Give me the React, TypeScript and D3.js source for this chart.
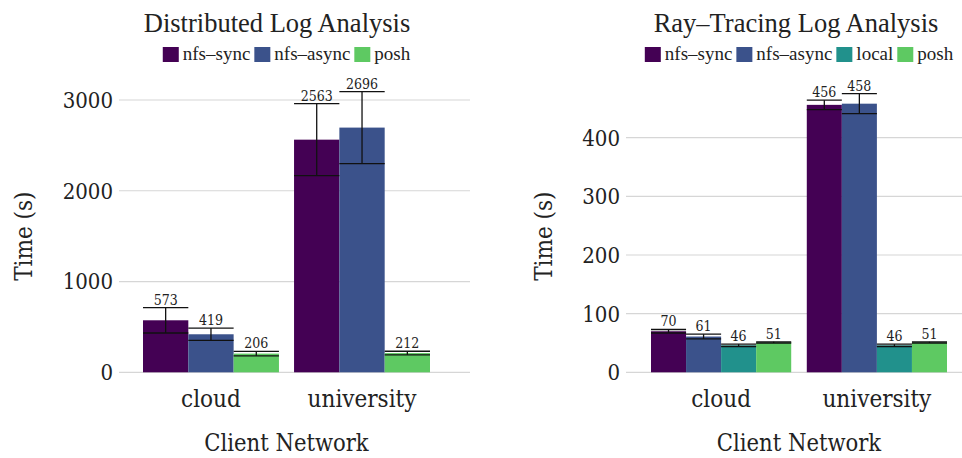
import * as d3 from "d3";
import { useEffect, useRef } from "react";

const networks = ["cloud", "university"];

// Distributed Log Analysis
const distSeries = ["nfs–sync", "nfs–async", "posh"];
const distColors = ["#440154", "#3b528b", "#5ec962"];
const distMeans = [
  [573, 2563],
  [419, 2696],
  [206, 212],
];
const distErrors = [
  [140, 397],
  [68, 396],
  [24, 20],
];
const distTicks = [0, 1000, 2000, 3000];

// Ray-Tracing Log Analysis
const raySeries = ["nfs–sync", "nfs–async", "local", "posh"];
const rayColors = ["#440154", "#3b528b", "#21918c", "#5ec962"];
const rayMeans = [
  [70, 456],
  [61, 458],
  [46, 46],
  [51, 51],
];
const rayErrors = [
  [3, 8],
  [4, 17],
  [2, 2],
  [1, 1],
];
const rayTicks = [0, 100, 200, 300, 400];

const SERIF = "'Liberation Serif', 'Times New Roman', serif";
const COND = "'DejaVu Serif Condensed', 'DejaVu Serif', serif";

type Panel = {
  title: string;
  titleX: number;
  series: string[];
  colors: string[];
  means: number[][];
  errors: number[][];
  ticks: number[];
  yMax: number;
  yTop: number;
  xRange: [number, number];
  gridX: [number, number];
  labelX: number;
};

const panels: Panel[] = [
  {
    title: "Distributed Log Analysis",
    titleX: 277,
    series: distSeries,
    colors: distColors,
    means: distMeans,
    errors: distErrors,
    ticks: distTicks,
    yMax: 3000,
    yTop: 100,
    xRange: [143, 430],
    gridX: [119, 470],
    labelX: 23,
  },
  {
    title: "Ray–Tracing Log Analysis",
    titleX: 796,
    series: raySeries,
    colors: rayColors,
    means: rayMeans,
    errors: rayErrors,
    ticks: rayTicks,
    yMax: 400,
    yTop: 137.7,
    xRange: [651, 947],
    gridX: [626, 962],
    labelX: 543,
  },
];

export default function App() {
  const ref = useRef<SVGSVGElement>(null);

  useEffect(() => {
    if (!ref.current) return;
    const svg = d3.select(ref.current);
    svg.selectAll("*").remove();
    const y0 = 372.3;

    panels.forEach(p => {
      const g = svg.append("g");
      const y = d3.scaleLinear().domain([0, p.yMax]).range([y0, p.yTop]);
      const x0 = d3.scaleBand().domain(networks).range(p.xRange).paddingInner(0.1);
      const x1 = d3.scaleBand().domain(p.series).range([0, x0.bandwidth()]);
      const cx = (p.xRange[0] + p.xRange[1]) / 2;

      // gridlines
      g.selectAll(".grid")
        .data(p.ticks)
        .join("line")
        .attr("x1", p.gridX[0])
        .attr("x2", p.gridX[1])
        .attr("y1", d => y(d))
        .attr("y2", d => y(d))
        .attr("stroke", "#d6d6d6")
        .attr("stroke-width", 1.2);

      g.selectAll(".tick")
        .data(p.ticks)
        .join("text")
        .attr("x", p.gridX[0] - 6)
        .attr("y", d => y(d))
        .attr("dy", "0.36em")
        .attr("text-anchor", "end")
        .attr("font-family", COND)
        .attr("font-stretch", "condensed")
        .attr("font-size", 22)
        .attr("fill", "#222")
        .text(d => String(d));

      // bars
      const rows = p.series.flatMap((s, si) =>
        networks.map((n, ni) => ({ s, n, si, v: p.means[si][ni], e: p.errors[si][ni] }))
      );
      const bx = (d: { s: string; n: string }) => x0(d.n)! + x1(d.s)!;
      const bw = x1.bandwidth();

      g.selectAll(".bar")
        .data(rows)
        .join("rect")
        .attr("x", bx)
        .attr("y", d => y(d.v))
        .attr("width", bw)
        .attr("height", d => y0 - y(d.v))
        .attr("fill", d => p.colors[d.si]);

      // error bars
      const eb = g.selectAll(".err").data(rows).join("g");
      eb.append("line")
        .attr("x1", d => bx(d) + bw / 2)
        .attr("x2", d => bx(d) + bw / 2)
        .attr("y1", d => y(d.v - d.e))
        .attr("y2", d => y(d.v + d.e));
      eb.append("line")
        .attr("x1", d => bx(d))
        .attr("x2", d => bx(d) + bw)
        .attr("y1", d => y(d.v + d.e))
        .attr("y2", d => y(d.v + d.e));
      eb.append("line")
        .attr("x1", d => bx(d))
        .attr("x2", d => bx(d) + bw)
        .attr("y1", d => y(d.v - d.e))
        .attr("y2", d => y(d.v - d.e));
      eb.selectAll("line").attr("stroke", "#111").attr("stroke-width", 1.3);

      g.selectAll(".val")
        .data(rows)
        .join("text")
        .attr("x", d => bx(d) + bw / 2)
        .attr("y", d => y(d.v + d.e) - 3)
        .attr("text-anchor", "middle")
        .attr("font-family", COND)
        .attr("font-stretch", "condensed")
        .attr("font-size", 14)
        .attr("fill", "#222")
        .text(d => String(d.v));

      // category labels
      g.selectAll(".cat")
        .data(networks)
        .join("text")
        .attr("x", d => x0(d)! + x0.bandwidth() / 2)
        .attr("y", 407)
        .attr("text-anchor", "middle")
        .attr("font-family", COND)
        .attr("font-stretch", "condensed")
        .attr("font-size", 24)
        .attr("fill", "#222")
        .text(d => d);

      g.append("text")
        .attr("x", cx)
        .attr("y", 451)
        .attr("text-anchor", "middle")
        .attr("font-family", COND)
        .attr("font-stretch", "condensed")
        .attr("font-size", 23.5)
        .attr("fill", "#222")
        .text("Client Network");

      g.append("text")
        .attr("transform", `translate(${p.labelX},${(y0 + 100) / 2}) rotate(-90)`)
        .attr("dy", "0.36em")
        .attr("text-anchor", "middle")
        .attr("font-family", COND)
        .attr("font-stretch", "condensed")
        .attr("font-size", 24)
        .attr("fill", "#222")
        .text("Time (s)");

      // title
      g.append("text")
        .attr("x", p.titleX)
        .attr("y", 32)
        .attr("text-anchor", "middle")
        .attr("font-family", SERIF)
        .attr("font-size", 26.5)
        .attr("fill", "#222")
        .text(p.title);

      // legend
      const lg = g.append("g");
      let lx = 0;
      p.series.forEach((s, i) => {
        lg.append("rect")
          .attr("x", lx)
          .attr("y", 47)
          .attr("width", 16)
          .attr("height", 15)
          .attr("fill", p.colors[i]);
        const t = lg
          .append("text")
          .attr("x", lx + 20)
          .attr("y", 60)
          .attr("font-family", SERIF)
          .attr("font-size", 19)
          .attr("fill", "#222")
          .text(s);
        lx += 20 + (t.node() as SVGTextElement).getComputedTextLength() + 4;
      });
      lx -= 4;
      lg.attr("transform", `translate(${cx - lx / 2},0)`);
    });
  }, []);

  return (
    <svg
      ref={ref}
      width={962}
      height={458}
      style={{ position: "absolute", left: 0, top: 0, background: "#fff", display: "block" }}
    />
  );
}
